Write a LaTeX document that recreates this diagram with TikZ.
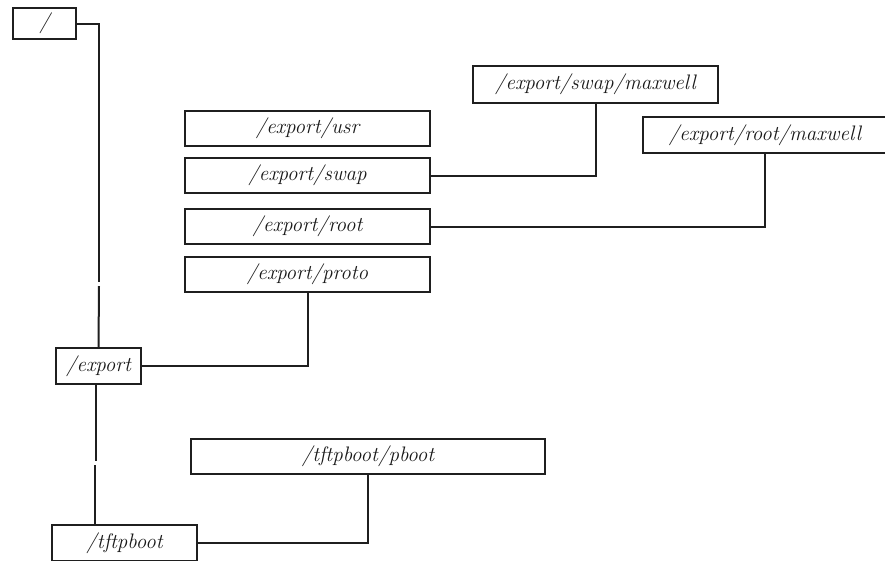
\documentclass[tikz,border=0pt]{standalone}
\usepackage{fontspec}
\begin{document}
\begin{tikzpicture}[x=1pt,y=-1pt,
  ink/.style={black!88},
  dirbox/.style={draw=black!88, line width=2.4pt, fill=white, inner sep=0pt,
    font=\fontsize{21}{24}\selectfont\itshape, text=black!90},
  link/.style={draw=black!88, line width=2pt}]
\useasboundingbox (0,0) rectangle (885,560);

% directory boxes (centre, width, height)
\node[dirbox, minimum width=63pt,  minimum height=31pt] (root)     at (44.5,23.5)  {/};
\node[dirbox, minimum width=85pt,  minimum height=36pt] (export)   at (98.5,366)   {/export};
\node[dirbox, minimum width=145pt, minimum height=36pt] (tftp)     at (124.5,543)  {/tftpboot};
\node[dirbox, minimum width=245pt, minimum height=35pt] (usr)      at (307.5,128.5){/export/usr};
\node[dirbox, minimum width=245pt, minimum height=35pt] (swap)     at (307.5,175.5){/export/swap};
\node[dirbox, minimum width=245pt, minimum height=35pt] (exroot)   at (307.5,226.5){/export/root};
\node[dirbox, minimum width=245pt, minimum height=35pt] (proto)    at (307.5,274.5){/export/proto};
\node[dirbox, minimum width=245pt, minimum height=37pt] (swapmax)  at (595.5,84.5) {/export/swap/maxwell};
\node[dirbox, minimum width=244pt, minimum height=36pt] (rootmax)  at (765,135)    {/export/root/maxwell};
\node[dirbox, minimum width=354pt, minimum height=35pt] (pboot)    at (368,456.5)  {/tftpboot/pboot};

% small breaks in the long vertical runs
\coordinate (b1) at (99,282);
\coordinate (b2) at (99,286);
\coordinate (b3) at (96,461);
\coordinate (b4) at (95,465);

% connectors
\draw[link] (root.east) -| (b1);
\draw[link] (b2) -- (export.north);
\draw[link] (export.south -| b3) -- (b3);
\draw[link] (b4) -- (b4 |- tftp.north);
\draw[link] (export.east) -| (proto.south);
\draw[link] (swap.east) -| (swapmax.south);
\draw[link] (exroot.east) -| (rootmax.south);
\draw[link] (tftp.east) -| (pboot.south);
\end{tikzpicture}
\end{document}
